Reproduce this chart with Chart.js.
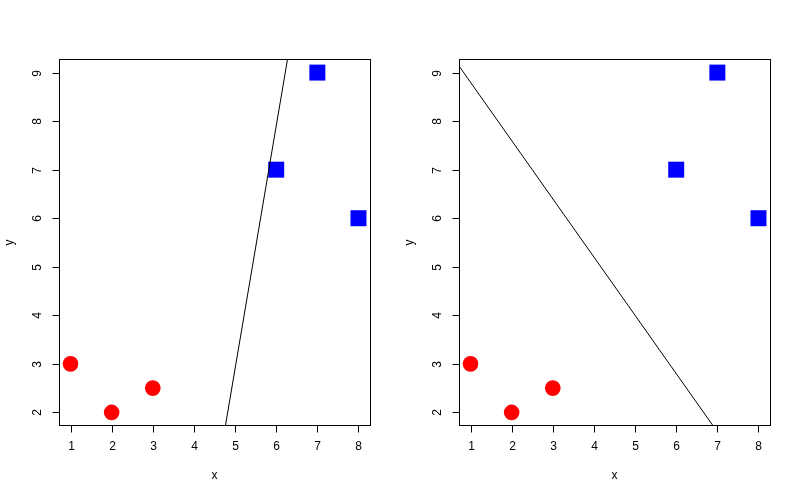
<!DOCTYPE html>
<html>
<head>
<meta charset="utf-8">
<script src="https://cdn.jsdelivr.net/npm/chart.js@4"></script>
<style>
  body { margin: 0; background: #fff; }
  #wrap { display: flex; width: 800px; height: 500px; }
  canvas { display: block; }
</style>
</head>
<body>
<div id="wrap">
  <canvas id="left" width="400" height="500"></canvas>
  <canvas id="right" width="400" height="500"></canvas>
</div>
<script>
// points
var redX = [1, 2, 3];
var redY = [3, 2, 2.5];
var blueX = [6, 7, 8];
var blueY = [7, 9, 6];

// separating lines (two far points each, clipped to the plot box)
var line1X = [4.5, 6.5];
var line1Y = [0.4, 10.4];
var line2X = [0, 8];
var line2Y = [10, 0.4];

var xTicks = [1, 2, 3, 4, 5, 6, 7, 8];
var yTicks = [2, 3, 4, 5, 6, 7, 8, 9];
var xTitle = "x";
var yTitle = "y";

var FONT = "12px 'Liberation Sans', Arial, sans-serif";

function pts(xs, ys) {
    return xs.map(function (x, i) { return { x: x, y: ys[i] }; });
}

// R style box, ticks and labels, placed with the chart's scales
var rAxes = {
    id: "rAxes",
    afterDraw: function (chart) {
        var ctx = chart.ctx;
        var a = chart.chartArea;
        var xs = chart.scales.x, ys = chart.scales.y;
        ctx.save();
        ctx.strokeStyle = "#000";
        ctx.lineWidth = 1;
        ctx.strokeRect(Math.floor(a.left) + 0.5, Math.floor(a.top) + 0.5,
            Math.floor(a.right) - Math.floor(a.left), Math.floor(a.bottom) - Math.floor(a.top) - 1);
        var by = Math.floor(a.bottom) - 0.5;
        var lx = Math.floor(a.left) + 0.5;
        ctx.fillStyle = "#000";
        ctx.font = FONT;
        ctx.textAlign = "center";
        ctx.textBaseline = "middle";
        xTicks.forEach(function (t) {
            var px = Math.round(xs.getPixelForValue(t)) + 0.5;
            ctx.beginPath();
            ctx.moveTo(px, by);
            ctx.lineTo(px, by + 7);
            ctx.stroke();
            ctx.fillText(String(t), px, by + 21);
        });
        yTicks.forEach(function (t) {
            var py = Math.round(ys.getPixelForValue(t)) + 0.5;
            ctx.beginPath();
            ctx.moveTo(lx, py);
            ctx.lineTo(lx - 7, py);
            ctx.stroke();
            ctx.save();
            ctx.translate(lx - 22, py);
            ctx.rotate(-Math.PI / 2);
            ctx.fillText(String(t), 0, 0);
            ctx.restore();
        });
        ctx.fillText(xTitle, (a.left + a.right) / 2, 476);
        ctx.save();
        ctx.translate(10, (a.top + a.bottom) / 2);
        ctx.rotate(-Math.PI / 2);
        ctx.fillText(yTitle, 0, 0);
        ctx.restore();
        ctx.restore();
    }
};

function makeChart(id, lx, ly) {
    return new Chart(document.getElementById(id), {
        type: "scatter",
        data: {
            datasets: [{
                data: pts(lx, ly),
                showLine: true,
                borderColor: "#000",
                borderWidth: 1,
                pointRadius: 0,
                clip: 0
            }, {
                data: pts(redX, redY),
                pointStyle: "circle",
                pointRadius: 7.8,
                pointBorderWidth: 0,
                backgroundColor: "#ff0000",
                clip: false
            }, {
                data: pts(blueX, blueY),
                pointStyle: "rect",
                pointRadius: 11.3,
                pointBorderWidth: 0,
                backgroundColor: "#0000ff",
                clip: false
            }]
        },
        options: {
            responsive: false,
            animation: false,
            layout: { padding: { left: 59, right: 30, top: 59, bottom: 74 } },
            plugins: { legend: { display: false }, tooltip: { enabled: false } },
            scales: {
                x: { type: "linear", min: 0.72, max: 8.28, display: false },
                y: { type: "linear", min: 1.72, max: 9.28, display: false }
            }
        },
        plugins: [rAxes]
    });
}

makeChart("left", line1X, line1Y);
makeChart("right", line2X, line2Y);
</script>
</body>
</html>
